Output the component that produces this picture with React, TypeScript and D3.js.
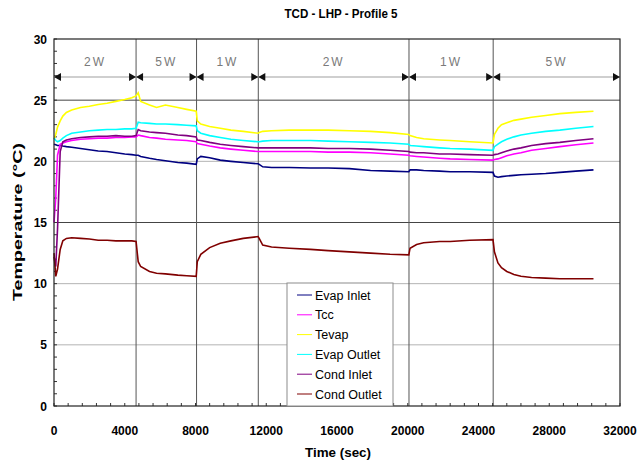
import * as d3 from 'd3';

// time in seconds, shared by every series
const times = [0, 100, 200, 350, 500, 700, 1000, 1500, 2000, 2500, 3000, 3500, 4000, 4400, 4640, 4760, 4900, 5400, 5800, 6300, 7000, 7500, 8040, 8100, 8300, 8800, 9400, 10000, 10700, 11540, 11600, 11800, 12300, 13300, 14500, 15500, 16700, 17900, 19000, 20060, 20130, 20500, 20900, 21800, 22400, 23500, 24820, 24900, 25100, 25300, 25600, 26000, 26400, 27000, 27800, 28600, 29500, 30500];

const evapInlet = [21.4, 21.35, 21.3, 21.3, 21.25, 21.2, 21.15, 21.05, 20.95, 20.85, 20.8, 20.7, 20.6, 20.55, 20.5, 20.5, 20.4, 20.25, 20.15, 20.05, 19.9, 19.85, 19.75, 20.2, 20.4, 20.3, 20.1, 20.0, 19.9, 19.8, 19.75, 19.55, 19.5, 19.5, 19.45, 19.45, 19.4, 19.25, 19.2, 19.15, 19.3, 19.3, 19.25, 19.2, 19.15, 19.15, 19.1, 18.8, 18.7, 18.75, 18.8, 18.85, 18.9, 18.95, 19.0, 19.1, 19.2, 19.3];
const tcc = [15.0, 17.0, 20.5, 21.4, 21.5, 21.6, 21.7, 21.8, 21.85, 21.9, 21.9, 21.95, 21.95, 22.0, 22.0, 22.15, 22.1, 21.95, 21.9, 21.8, 21.75, 21.7, 21.6, 21.45, 21.4, 21.25, 21.1, 21.0, 20.9, 20.8, 20.8, 20.8, 20.8, 20.8, 20.8, 20.75, 20.75, 20.7, 20.6, 20.5, 20.45, 20.4, 20.35, 20.25, 20.2, 20.15, 20.1, 20.15, 20.2, 20.3, 20.45, 20.6, 20.7, 20.9, 21.05, 21.2, 21.35, 21.5];
const tevap = [21.8, 22.2, 22.8, 23.3, 23.7, 24.0, 24.2, 24.4, 24.5, 24.65, 24.75, 24.9, 25.05, 25.2, 25.35, 25.6, 24.9, 24.6, 24.4, 24.6, 24.4, 24.25, 24.1, 23.3, 23.05, 22.85, 22.7, 22.55, 22.45, 22.3, 22.35, 22.45, 22.5, 22.55, 22.55, 22.55, 22.5, 22.45, 22.35, 22.2, 22.1, 21.95, 21.85, 21.75, 21.7, 21.6, 21.5, 22.2, 22.7, 23.0, 23.15, 23.35, 23.45, 23.6, 23.75, 23.9, 24.0, 24.1];
const evapOutlet = [21.9, 21.7, 21.6, 21.7, 21.9, 22.1, 22.3, 22.4, 22.5, 22.55, 22.6, 22.6, 22.65, 22.65, 22.7, 23.2, 23.15, 23.1, 23.05, 23.05, 23.0, 22.95, 22.9, 22.5, 22.3, 22.1, 21.95, 21.8, 21.7, 21.6, 21.6, 21.65, 21.7, 21.7, 21.7, 21.65, 21.6, 21.55, 21.5, 21.4, 21.3, 21.25, 21.2, 21.1, 21.05, 21.0, 20.9, 21.2, 21.4, 21.6, 21.8, 22.0, 22.15, 22.3, 22.45, 22.55, 22.7, 22.85];
const condInlet = [12.2, 11.4, 14.5, 20.8, 21.6, 21.75, 21.85, 21.95, 22.0, 22.05, 22.05, 22.1, 22.05, 22.05, 22.1, 22.6, 22.5, 22.4, 22.35, 22.3, 22.15, 22.1, 22.0, 21.75, 21.7, 21.55, 21.4, 21.3, 21.2, 21.1, 21.1, 21.1, 21.1, 21.1, 21.1, 21.05, 21.05, 21.0, 20.9, 20.8, 20.75, 20.7, 20.7, 20.6, 20.6, 20.55, 20.5, 20.55, 20.6, 20.7, 20.85, 21.0, 21.1, 21.3, 21.45, 21.55, 21.7, 21.85];
const condOutlet = [12.5, 10.6, 11.2, 12.8, 13.5, 13.7, 13.75, 13.7, 13.65, 13.55, 13.55, 13.5, 13.5, 13.5, 13.45, 11.8, 11.4, 11.0, 10.85, 10.8, 10.7, 10.65, 10.6, 11.8, 12.4, 12.95, 13.3, 13.5, 13.7, 13.85, 13.7, 13.15, 13.0, 12.9, 12.8, 12.7, 12.6, 12.5, 12.4, 12.35, 12.9, 13.2, 13.35, 13.45, 13.45, 13.55, 13.6, 12.6, 11.7, 11.3, 11.0, 10.75, 10.6, 10.5, 10.45, 10.4, 10.4, 10.4];

const seriesNames = ['Evap Inlet', 'Tcc', 'Tevap', 'Evap Outlet', 'Cond Inlet', 'Cond Outlet'];
const seriesValues = [evapInlet, tcc, tevap, evapOutlet, condInlet, condOutlet];
const seriesColors = ['#000080', '#ff00ff', '#ffff00', '#00ffff', '#800080', '#800000'];

const xTicks = [0, 4000, 8000, 12000, 16000, 20000, 24000, 28000, 32000];
const yTicks = [0, 5, 10, 15, 20, 25, 30];

// heater power phases
const phaseBounds = [0, 4640, 8060, 11550, 20070, 24830, 32000];
const phaseLabels = ['2W', '5W', '1W', '2W', '1W', '5W'];

const W = 638;
const H = 464;
const left = 54;
const right = 620;
const top = 39;
const bottom = 406;
const font = '"Liberation Sans", Arial, sans-serif';

export default function App() {
  const x = d3.scaleLinear().domain([0, 32000]).range([left, right]);
  const y = d3.scaleLinear().domain([0, 30]).range([bottom, top]);

  const line = d3
    .line<number>()
    .x((_, i) => x(times[i]))
    .y((v) => y(v));

  const minorX = d3.range(0, 32001, 800);
  const minorY = d3.range(0, 31, 1);
  const arrowY = 77;

  return (
    <svg width={W} height={H} style={{ position: 'absolute', left: 0, top: 0 }} fontFamily={font}>
      <rect width={W} height={H} fill="#fff" />
      <text x={341} y={18} textAnchor="middle" fontSize={12} fontWeight="bold" textLength={113} lengthAdjust="spacingAndGlyphs">
        TCD - LHP - Profile 5
      </text>

      {/* grid */}
      {yTicks.slice(1, -1).map((t) => (
        <line key={t} x1={left} x2={right} y1={y(t)} y2={y(t)} stroke={t === 25 || t === 15 ? '#444' : '#b4b4b4'} strokeWidth={1} />
      ))}
      {phaseBounds.slice(1, -1).map((b) => (
        <line key={b} x1={x(b)} x2={x(b)} y1={top} y2={bottom} stroke="#555" strokeWidth={1} />
      ))}

      {/* minor ticks */}
      {minorX.map((t) => (
        <line key={'mx' + t} x1={x(t)} x2={x(t)} y1={bottom} y2={bottom - 3} stroke="#333" />
      ))}
      {minorY.map((t) => (
        <line key={'my' + t} x1={left} x2={left + 3} y1={y(t)} y2={y(t)} stroke="#333" />
      ))}

      {/* phase annotation */}
      <line x1={left} x2={right} y1={arrowY} y2={arrowY} stroke="#a0a0a0" strokeWidth={1.2} />
      {phaseBounds.slice(1).map((b, i) => {
        const bx = x(b);
        return (
          <g key={'ar' + i}>
            <path d={`M${bx},${arrowY} l-7,-4 l0,8 z`} fill="#111" />
            {i < phaseBounds.length - 2 && <path d={`M${bx},${arrowY} l7,-4 l0,8 z`} fill="#111" />}
          </g>
        );
      })}
      <path d={`M${left},${arrowY} l7,-4 l0,8 z`} fill="#111" />
      {phaseLabels.map((lab, i) => (
        <text
          key={'pl' + i}
          x={(x(phaseBounds[i]) + x(phaseBounds[i + 1])) / 2}
          y={66}
          textAnchor="middle"
          fontSize={12}
          fill="#7a7a7a"
          letterSpacing={2}
        >
          {lab}
        </text>
      ))}

      {/* series */}
      {seriesValues.map((vals, i) => (
        <path key={seriesNames[i]} d={line(vals) || ''} fill="none" stroke={seriesColors[i]} strokeWidth={1.6} />
      ))}

      {/* frame */}
      <rect x={left} y={top} width={right - left} height={bottom - top} fill="none" stroke="#222" strokeWidth={1.2} />

      {/* axes labels */}
      {xTicks.map((t) => (
        <text key={'xt' + t} x={x(t)} y={435} textAnchor="middle" fontSize={12} fontWeight="bold">
          {t}
        </text>
      ))}
      {yTicks.map((t) => (
        <text key={'yt' + t} x={47} y={y(t) + 4.5} textAnchor="end" fontSize={12} fontWeight="bold">
          {t}
        </text>
      ))}
      <text x={338} y={457} textAnchor="middle" fontSize={13} fontWeight="bold" textLength={66} lengthAdjust="spacingAndGlyphs">
        Time (sec)
      </text>
      <text
        transform={`translate(22,222) rotate(-90)`}
        textAnchor="middle"
        fontSize={13}
        fontWeight="bold"
        textLength={158}
        lengthAdjust="spacingAndGlyphs"
      >
        Temperature (°C)
      </text>

      {/* legend */}
      <rect x={287} y={283} width={106} height={123} fill="#fff" stroke="#8c8c8c" strokeWidth={1} />
      {seriesNames.map((name, i) => {
        const ly = 295 + i * 19.8;
        return (
          <g key={'lg' + name}>
            <line x1={297} x2={312} y1={ly} y2={ly} stroke={seriesColors[i]} strokeWidth={1} />
            <text x={315} y={ly + 4.5} fontSize={12.5}>
              {name}
            </text>
          </g>
        );
      })}
    </svg>
  );
}
